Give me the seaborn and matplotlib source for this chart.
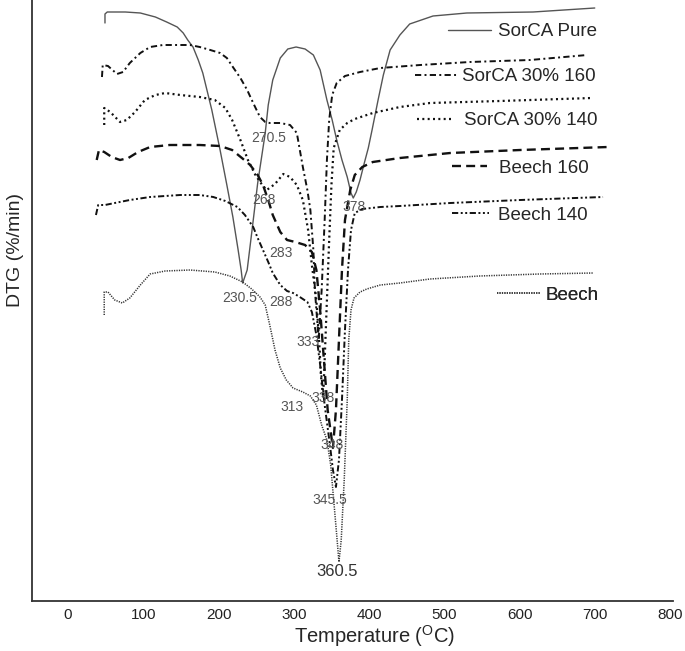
import matplotlib
matplotlib.use("Agg")
import matplotlib.pyplot as plt
import seaborn as sns
import pandas as pd

# Curvas DTG (temperatura em °C, DTG em unidades arbitrarias, curvas deslocadas)
pure_t = [49, 49, 52, 76, 96, 116, 131, 145, 153, 159, 166, 173, 179, 191, 202, 211, 219, 226, 230, 232,
          238, 244, 252, 262, 266, 272, 282, 292, 303, 315, 326, 335, 344, 351, 357, 364, 371, 376, 379, 383,
          388, 393, 399, 404, 412, 419, 428, 441, 454, 485, 530, 618, 700]
pure_dtg = [578, 587, 589, 589, 588, 584, 579, 574, 568, 561, 554, 541, 528, 491, 451, 416, 384, 351, 331, 318,
            331, 368, 418, 468, 496, 521, 543, 552, 554, 552, 546, 531, 501, 481, 461, 441, 424, 408, 403, 409,
            421, 436, 453, 471, 501, 526, 551, 566, 577, 585, 588, 589, 593]

s160_t = [45, 46, 53, 65, 73, 82, 96, 109, 126, 140, 162, 175, 189, 202, 211, 219, 229, 238, 246, 255,
          262, 268, 282, 295, 304, 312, 318, 322, 326, 328, 331, 333, 337, 341, 344, 347, 351, 357, 368, 388,
          415, 468, 534, 614, 690]
s160_dtg = [524, 536, 535, 527, 529, 538, 548, 554, 556, 556, 556, 554, 551, 548, 543, 534, 523, 511, 498, 484,
            479, 478, 478, 476, 468, 434, 411, 391, 351, 311, 281, 261, 311, 381, 441, 481, 506, 518, 525, 529,
            533, 536, 539, 541, 546]

s140_t = [48, 48, 56, 69, 78, 89, 102, 116, 129, 149, 175, 195, 209, 218, 229, 239, 249, 258, 264, 275,
          286, 295, 304, 312, 319, 324, 330, 334, 336, 339, 341, 344, 347, 350, 353, 361, 371, 381, 405, 441,
          481, 574, 696]
s140_dtg = [476, 493, 489, 479, 481, 489, 501, 506, 508, 506, 504, 501, 493, 481, 461, 441, 426, 416, 411, 417,
            427, 424, 416, 401, 371, 336, 301, 256, 226, 203, 241, 301, 361, 416, 453, 471, 478, 482, 488, 494,
            498, 500, 503]

b160_t = [38, 41, 48, 58, 69, 80, 93, 109, 135, 175, 202, 218, 231, 242, 252, 259, 266, 272, 282, 291,
          302, 315, 324, 330, 335, 340, 345, 352, 356, 360, 364, 368, 375, 381, 391, 405, 441, 508, 601, 718]
b160_dtg = [441, 451, 449, 444, 441, 443, 449, 454, 456, 456, 455, 451, 443, 436, 426, 416, 401, 386, 369, 361,
            359, 356, 349, 331, 291, 241, 191, 153, 191, 261, 331, 381, 411, 426, 434, 439, 443, 448, 451, 454]

b140_t = [37, 40, 49, 62, 82, 109, 149, 175, 193, 209, 225, 235, 246, 252, 259, 266, 272, 282, 291, 299,
          308, 318, 324, 330, 335, 341, 348, 352, 356, 360, 364, 368, 372, 376, 381, 391, 415, 441, 508, 601, 711]
b140_dtg = [386, 396, 396, 398, 401, 404, 406, 406, 404, 400, 394, 386, 374, 363, 351, 339, 328, 316, 310, 308,
            304, 299, 289, 266, 236, 196, 156, 131, 114, 141, 201, 271, 331, 371, 388, 392, 394, 395, 398, 401, 404]

beech_t = [48, 48, 53, 62, 72, 82, 96, 109, 129, 162, 195, 215, 232, 244, 255, 262, 268, 275, 282, 290,
           299, 312, 322, 330, 337, 344, 349, 353, 357, 360, 363, 367, 371, 373, 376, 380, 388, 397, 415, 441,
           481, 547, 627, 698]
beech_dtg = [286, 309, 309, 301, 298, 303, 316, 327, 330, 331, 329, 325, 319, 312, 304, 296, 276, 251, 233, 221,
             213, 209, 205, 196, 176, 161, 136, 101, 66, 39, 61, 121, 201, 261, 291, 303, 309, 312, 316, 318,
             322, 325, 327, 328]

# picos anotados (texto, temperatura, DTG)
peak_labels = ['230.5', '270.5', '268', '283', '288', '378', '333', '313', '338', '348', '345.5', '360.5']
peak_t = [228, 266, 260, 283, 283, 380, 319, 297, 339, 351, 348, 357]
peak_dtg = [303, 463, 401, 348, 299, 394, 259, 194, 203, 156, 101, 29]

x_ticks = [0, 100, 200, 300, 400, 500, 600, 700, 800]

sns.set_style("white")
plt.rcParams['font.family'] = ['Liberation Sans', 'DejaVu Sans']
plt.rcParams['mathtext.fontset'] = 'custom'
plt.rcParams['mathtext.rm'] = 'Liberation Sans'

fig = plt.figure(figsize=(6.85, 6.51), dpi=100)
ax = fig.add_axes([32 / 685, 50 / 651, 641 / 685, 601 / 651])

# nome, x, y, cor, espessura, tracejado, posicao da legenda (fração dos eixos), comprimento do traço
series = [
    ('SorCA Pure', pure_t, pure_dtg, '#555555', 1.0, None, (0.649, 0.947), 2.3, 0.35),
    ('SorCA 30% 160', s160_t, s160_dtg, '#111111', 1.4, (3.2, 1.7, 1.0, 1.7), (0.598, 0.872), 2.2, 0.3),
    ('SorCA 30% 140', s140_t, s140_dtg, '#111111', 1.6, (0.9, 1.5), (0.601, 0.799), 1.9, 0.6),
    ('Beech 160', b160_t, b160_dtg, '#111111', 1.7, (3.8, 2.2), (0.655, 0.720), 1.9, 0.6),
    ('Beech 140', b140_t, b140_dtg, '#111111', 1.4, (3.2, 1.3, 1.0, 1.3, 1.0, 1.3), (0.655, 0.642), 2.0, 0.45),
    ('Beech', beech_t, beech_dtg, '#333333', 1.1, (0.8, 0.8), (0.725, 0.509), 2.3, 0.3),
]

for name, t, d, color, lw, dash, pos, hl, pad in series:
    df = pd.DataFrame({'T': t, 'DTG': d})
    sns.lineplot(data=df, x='T', y='DTG', ax=ax, color=color, lw=lw, estimator=None, sort=False)
    line = ax.lines[-1]
    if dash:
        line.set_dashes(dash)
    leg = ax.legend(handles=[line], labels=[name], loc='center left', bbox_to_anchor=pos,
                    frameon=False, fontsize=13.5, handlelength=hl, handletextpad=pad,
                    borderpad=0, borderaxespad=0)
    ax.add_artist(leg)

for lab, t, d in zip(peak_labels, peak_t, peak_dtg):
    if lab == '360.5':
        ax.text(t, d, lab, ha='center', va='center', fontsize=12, color='#333333')
    else:
        ax.text(t, d, lab, ha='center', va='center', fontsize=10, color='#555555')

ax.set_xlim(-48, 804)
ax.set_ylim(0, 601)
ax.set_xticks(x_ticks)
ax.set_yticks([])
ax.tick_params(axis='x', length=0, pad=5, labelsize=11, colors='#222222')
for s in ['top', 'right']:
    ax.spines[s].set_visible(False)
for s in ['left', 'bottom']:
    ax.spines[s].set_color('#333333')
    ax.spines[s].set_linewidth(1.3)

ax.set_xlabel('Temperature ($^{\\mathrm{O}}$C)', fontsize=14.5, labelpad=1)
ax.xaxis.label.set_x(0.534)
ax.set_ylabel('DTG (%/min)', fontsize=14)
ax.yaxis.set_label_coords(-0.012, 0.584)

fig.savefig('out.png', dpi=100)
